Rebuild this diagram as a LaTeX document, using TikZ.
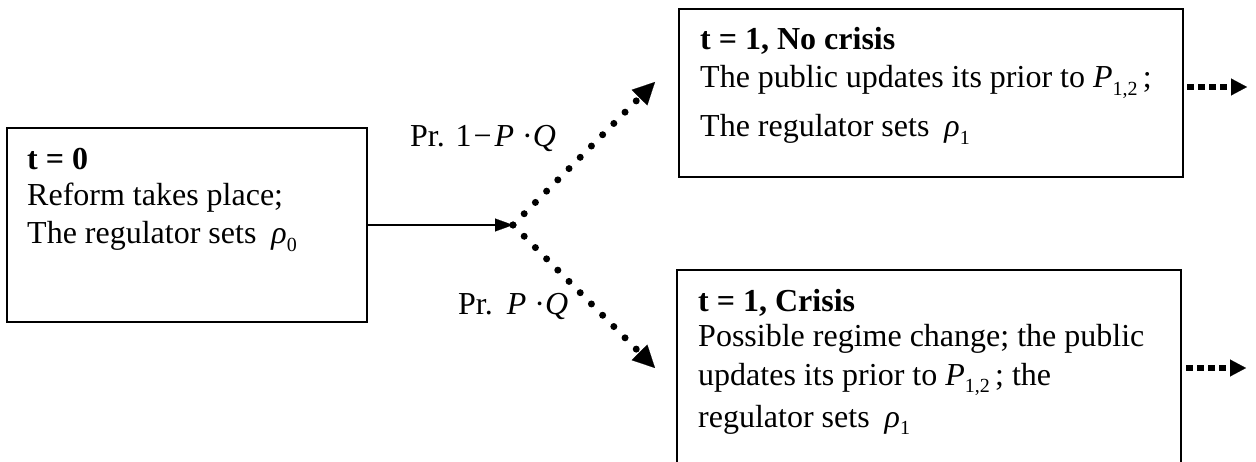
\documentclass[tikz,border=0pt]{standalone}
\usepackage{fontspec}
\setmainfont{Liberation Serif}
\usetikzlibrary{arrows.meta}
\newcommand\mvar[1]{\textit{#1}}
\newcommand\sbx[1]{\raisebox{-7.5pt}{\fontsize{20}{20}\selectfont #1}}
\begin{document}
\begin{tikzpicture}[x=1pt,y=-1pt,
  txt/.style={inner sep=0pt, anchor=base west, font=\fontsize{32}{38}\selectfont},
  boxnode/.style={draw, line width=1.8pt, inner sep=0pt},
  solidarrow/.style={line width=1.5pt, -{Triangle[length=18pt,width=13pt,line width=0.1pt]}},
  dotarrow/.style={line width=7pt, line cap=round, dash pattern=on 0pt off 15.9pt,
     -{Triangle[length=22pt,width=22pt,line width=0.1pt]}},
  sqarrow/.style={line width=6pt, line cap=butt, dash pattern=on 6.7pt off 4.3pt,
     -{Triangle[length=16pt,width=17pt,line width=0.1pt]}}]
\useasboundingbox (0,0) rectangle (1256,462);
\clip (0,0) rectangle (1256,462);
% boxes
\node[boxnode, minimum width=360pt, minimum height=194pt] (b0) at (187,225) {};
\node[boxnode, minimum width=504pt, minimum height=168pt] (b1) at (931,93) {};
\node[boxnode, minimum width=504pt, minimum height=220pt] (b2) at (929,380) {};
% box 0 text
\node[txt] (b0l1) at (27,170) {\bfseries t = 0};
\node[txt] (b0l2) at (27,206) {Reform takes place;};
\node[txt] (b0l3) at (27,244) {The regulator sets\hspace{15pt}\mvar{ρ}\sbx{0}};
% box 1 text
\node[txt] (b1l1) at (700,50) {\bfseries t = 1, No crisis};
\node[txt] (b1l2) at (700,88) {The public updates its prior to \mvar{P}\sbx{1,2}\,;};
\node[txt] (b1l3) at (700,137) {The regulator sets\hspace{15pt}\mvar{ρ}\sbx{1}};
% box 2 text
\node[txt] (b2l1) at (698,312) {\bfseries t = 1, Crisis};
\node[txt] (b2l2) at (698,347) {Possible regime change; the public};
\node[txt] (b2l3) at (698,385) {updates its prior to \mvar{P}\sbx{1,2}\,; the};
\node[txt] (b2l4) at (698,427) {regulator sets\hspace{15pt}\mvar{ρ}\sbx{1}};
% probability labels
\node[txt] (lab1) at (410,147) {Pr. 1\hspace{2pt}−\hspace{3pt}\mvar{P}\hspace{8pt}·\mvar{Q}};
\node[txt] (lab2) at (458,315) {Pr.\hspace{14pt}\mvar{P}\hspace{8pt}·\mvar{Q}};
% connectors
\coordinate (split) at (513,225);
\coordinate (tipA) at (655,82);
\coordinate (tipB) at (655,368);
\coordinate (sA) at (1187,87);
\coordinate (eA) at (1247,87);
\coordinate (sB) at (1186,368);
\coordinate (eB) at (1246,368);
\draw[solidarrow] (b0.east) -- (split);
\draw[dotarrow] (split) -- (tipA);
\draw[dotarrow] (split) -- (tipB);
\draw[sqarrow] (sA) -- (eA);
\draw[sqarrow] (sB) -- (eB);
\end{tikzpicture}
\end{document}
